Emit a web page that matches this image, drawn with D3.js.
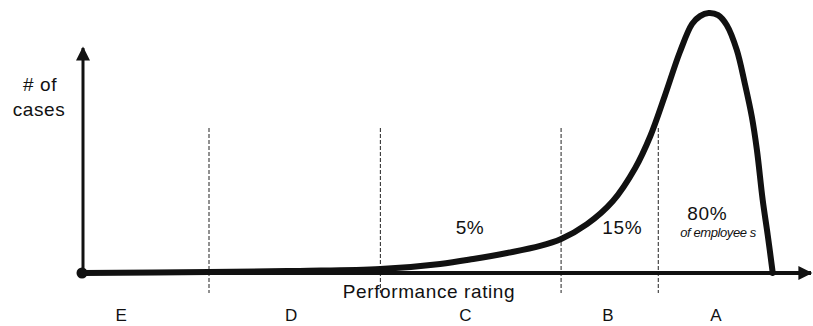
<!DOCTYPE html>
<html>
<head>
<meta charset="utf-8">
<script src="https://cdn.jsdelivr.net/npm/d3@7"></script>
<style>
    body { margin: 0; background: #fff; }
    text { font-family: "Liberation Sans", Arial, sans-serif; fill: #111; }
</style>
</head>
<body>
<div id="chart"></div>
<script>
// curve of the distribution (rating 0-100, cases 0-100)
const ratings = [0, 17.5, 30.1, 41.3, 49.6, 54.2, 58.9, 63.5, 66.4, 70.0, 73.6, 76.7, 78.8, 80.8, 82.9,
    84.6, 85.7, 86.9, 88.2, 89.4, 90.8, 91.9, 92.9, 93.6, 94.4, 95.1, 95.8];
const cases = [0, 0.4, 0.8, 1.5, 3.5, 5.4, 7.7, 10.4, 13.1, 18.8, 27.7, 40.4, 52.7, 68.1, 85,
    95.8, 98.8, 100, 99.2, 95.4, 85.8, 73.1, 60, 47.3, 28.1, 14.6, 0];

// band boundaries and labels
const dividers = [17.5, 41.3, 66.4, 79.9];
const grades = ["E", "D", "C", "B", "A"];
const gradePos = [5.3, 28.9, 53.1, 72.9, 87.9];
const shares = ["5%", "15%", "80%"];
const sharePos = [53.75, 74.9, 86.7];

const width = 813, height = 326;

const svg = d3.select("#chart").append("svg")
    .attr("width", width)
    .attr("height", height);

const x = d3.scaleLinear().domain([0, 100]).range([83, 803]);
const y = d3.scaleLinear().domain([0, 100]).range([273, 13]);

// arrow heads
const defs = svg.append("defs");
defs.append("marker")
    .attr("id", "arrow")
    .attr("viewBox", "0 0 10 10")
    .attr("refX", 9).attr("refY", 5)
    .attr("markerWidth", 16).attr("markerHeight", 14)
    .attr("markerUnits", "userSpaceOnUse")
    .attr("orient", "auto")
    .append("path")
    .attr("d", "M0,0 L10,5 L0,10 Z")
    .attr("fill", "#111");

// dashed dividers
svg.selectAll(".divider")
    .data(dividers)
    .enter().append("line")
    .attr("class", "divider")
    .attr("x1", d => x(d)).attr("x2", d => x(d))
    .attr("y1", 128).attr("y2", 293)
    .attr("stroke", "#222")
    .attr("stroke-width", 1)
    .attr("stroke-dasharray", "4,2");

// axes
svg.append("line")
    .attr("x1", x(0)).attr("y1", y(0))
    .attr("x2", 811).attr("y2", y(0))
    .attr("stroke", "#111")
    .attr("stroke-width", 4)
    .attr("marker-end", "url(#arrow)");

svg.append("line")
    .attr("x1", x(0)).attr("y1", y(0))
    .attr("x2", x(0)).attr("y2", 48)
    .attr("stroke", "#111")
    .attr("stroke-width", 3)
    .attr("marker-end", "url(#arrow)");

svg.append("circle")
    .attr("cx", x(0) - 1).attr("cy", y(0))
    .attr("r", 5.5)
    .attr("fill", "#111");

// distribution curve
const line = d3.line()
    .x(d => x(d[0]))
    .y(d => y(d[1]))
    .curve(d3.curveCatmullRom.alpha(0.5));

svg.append("path")
    .datum(d3.zip(ratings, cases))
    .attr("d", line)
    .attr("fill", "none")
    .attr("stroke", "#111")
    .attr("stroke-width", 6)
    .attr("stroke-linecap", "round");

// labels
const big = g => g.style("font-size", "19px").style("letter-spacing", "0.6px");

svg.append("text")
    .attr("x", 40).attr("y", 91)
    .attr("text-anchor", "middle")
    .call(big)
    .text("# of");
svg.append("text")
    .attr("x", 39).attr("y", 116)
    .attr("text-anchor", "middle")
    .call(big)
    .text("cases");

svg.append("text")
    .attr("x", 429).attr("y", 298)
    .attr("text-anchor", "middle")
    .call(big)
    .text("Performance rating");

svg.selectAll(".grade")
    .data(grades)
    .enter().append("text")
    .attr("class", "grade")
    .attr("x", (d, i) => x(gradePos[i]))
    .attr("y", 321)
    .attr("text-anchor", "middle")
    .style("font-size", "17px")
    .text(d => d);

svg.selectAll(".share")
    .data(shares)
    .enter().append("text")
    .attr("class", "share")
    .attr("x", (d, i) => x(sharePos[i]))
    .attr("y", (d, i) => i === 2 ? 220 : 234)
    .attr("text-anchor", "middle")
    .call(big)
    .text(d => d);

svg.append("text")
    .attr("x", 718).attr("y", 237)
    .attr("text-anchor", "middle")
    .style("font-size", "13px")
    .style("font-style", "italic")
    .style("letter-spacing", "-0.4px")
    .text("of employee s");
</script>
</body>
</html>
